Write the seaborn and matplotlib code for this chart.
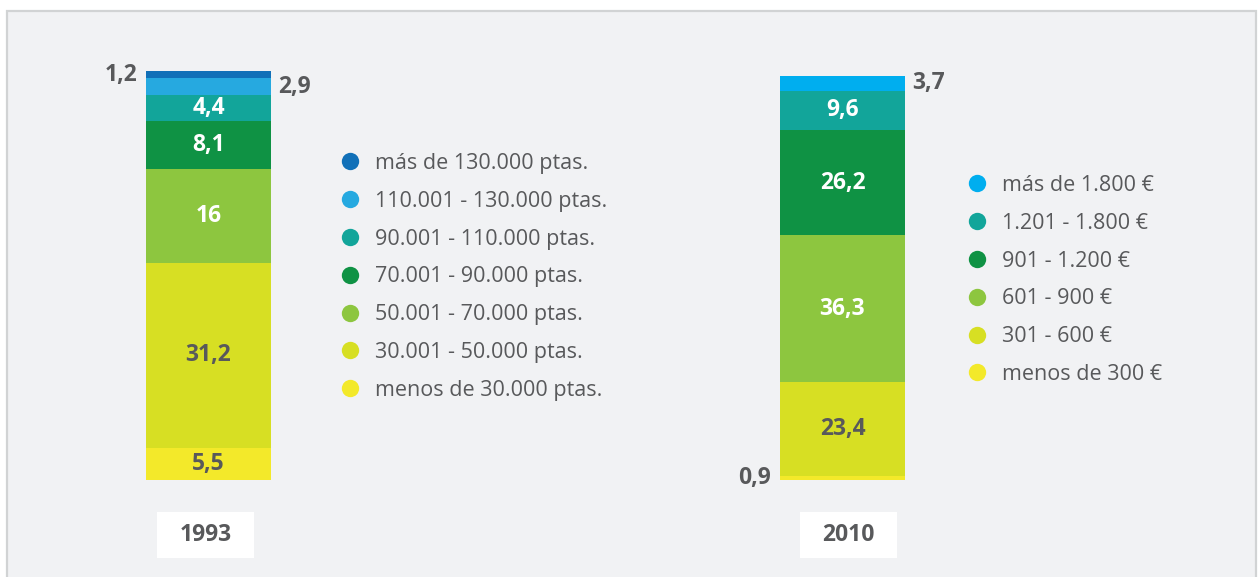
import matplotlib
matplotlib.use("Agg")
import matplotlib.pyplot as plt
from matplotlib.patches import Rectangle
from matplotlib.lines import Line2D
import seaborn as sns
import pandas as pd

# bottom-to-top order of the stacks
cats_1993 = ["menos de 30.000 ptas.", "30.001 - 50.000 ptas.", "50.001 - 70.000 ptas.",
             "70.001 - 90.000 ptas.", "90.001 - 110.000 ptas.", "110.001 - 130.000 ptas.",
             "más de 130.000 ptas."]
vals_1993 = [5.5, 31.2, 16, 8.1, 4.4, 2.9, 1.2]
pos_1993 = ["dark", "dark", "white", "white", "white", "right", "left"]

cats_2010 = ["menos de 300 €", "301 - 600 €", "601 - 900 €", "901 - 1.200 €",
             "1.201 - 1.800 €", "más de 1.800 €"]
vals_2010 = [0.9, 23.4, 36.3, 26.2, 9.6, 3.7]
pos_2010 = ["left", "dark", "white", "white", "white", "right"]

colors_1993 = ["#f3e92a", "#d7df23", "#8dc63f", "#0f9244", "#12a59a", "#26a9e0", "#1170b8"]
colors_2010 = ["#f3e92a", "#d7df23", "#8dc63f", "#0f9244", "#12a59a", "#00aeef"]

GRAY = "#58595b"
W, H = 1258, 577

sns.set_theme(style="white")
plt.rcParams["font.family"] = ["Open Sans", "DejaVu Sans"]

fig = plt.figure(figsize=(W / 100, H / 100), dpi=100)
fig.patch.set_facecolor("white")

# light panel behind everything
fig.patches.append(Rectangle((7 / W, -0.05), (1256 - 7) / W, (H - 11) / H + 0.05,
                             transform=fig.transFigure, facecolor="#f1f2f4",
                             edgecolor="#d1d3d4", linewidth=1.6, zorder=-5))


def px_axes(x0, x1, top, bottom):
    return fig.add_axes([x0 / W, (H - bottom) / H, (x1 - x0) / W, (bottom - top) / H])


def stacked(ax, year, cats, vals, colors, pos, bar_top_px):
    df = pd.DataFrame({"cat": cats, "val": vals})
    df["cum"] = df["val"].cumsum()
    df["year"] = year
    # draw from the top segment down, each bar covering the ones below
    for i in range(len(df) - 1, -1, -1):
        sns.barplot(data=df.iloc[[i]], x="year", y="cum", color=colors[i],
                    width=1, saturation=1, ax=ax, linewidth=0)
    total = df["cum"].iloc[-1]
    # axis from y=60 px to y=480 px, bar top at bar_top_px
    ax.set_ylim(0, total * (480 - 60) / (480 - bar_top_px))
    ax.set_xlim(-0.5, 0.5)
    ax.axis("off")
    for i, row in df.iterrows():
        mid = row["cum"] - row["val"] / 2
        lab = f"{row['val']:g}".replace(".", ",")
        p = pos[i]
        kw = dict(fontsize=16.5, fontweight="bold", va="center")
        if p == "white":
            ax.text(0, mid, lab, color="white", ha="center", **kw)
        elif p == "dark":
            ax.text(0, mid, lab, color=GRAY, ha="center", **kw)
        elif p == "right":
            ax.text(0.555, mid, lab, color=GRAY, ha="left", **kw)
        else:
            ax.text(-0.57, mid, lab, color=GRAY, ha="right", **kw)


ax1 = px_axes(146, 271, 60, 480)
stacked(ax1, "1993", cats_1993, vals_1993, colors_1993, pos_1993, 71)
ax2 = px_axes(780, 905, 60, 480)
stacked(ax2, "2010", cats_2010, vals_2010, colors_2010, pos_2010, 76)

# year boxes
for year, x0 in [("1993", 157), ("2010", 800)]:
    fig.patches.append(Rectangle((x0 / W, (H - 558) / H), 97 / W, 46 / H,
                                 transform=fig.transFigure, facecolor="white",
                                 edgecolor="none", zorder=1))
    fig.text((x0 + 48.5) / W, (H - 535) / H, year, ha="center", va="center",
             fontsize=16.5, fontweight="bold", color=GRAY, zorder=2)


def legend(cats, colors, x_px, y_px):
    handles = [Line2D([], [], marker="o", linestyle="", markersize=12.5,
                      markerfacecolor=c, markeredgecolor="none")
               for c in colors[::-1]]
    leg = fig.legend(handles, cats[::-1], loc="upper left",
                     bbox_to_anchor=(x_px / W, (H - y_px) / H),
                     frameon=False, fontsize=15.5, labelcolor=GRAY,
                     handletextpad=0.68, labelspacing=0.78, handlelength=0.95,
                     borderpad=0, borderaxespad=0)
    return leg


legend(cats_1993, colors_1993, 340, 153)
legend(cats_2010, colors_2010, 967, 175)

fig.savefig("out.png", dpi=100, facecolor="white")
